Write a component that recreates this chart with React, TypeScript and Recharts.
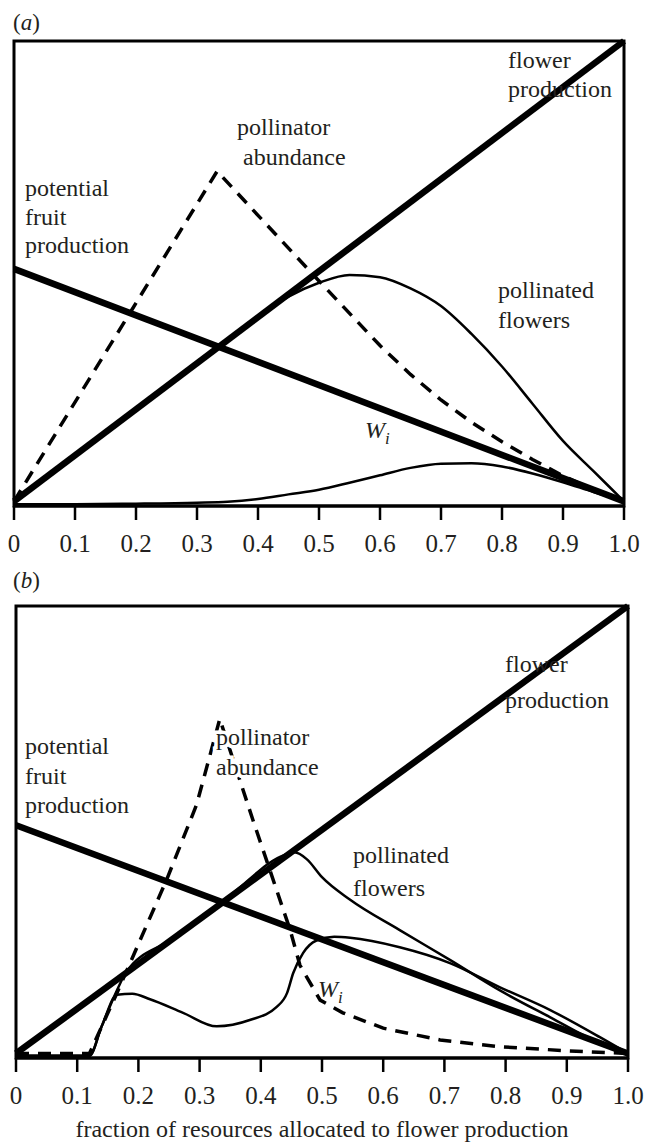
import React from 'react';
import { LineChart, Line, XAxis, YAxis, ReferenceArea } from 'recharts';

// x ticks shared by both panels
const xTicks = [0, 0.1, 0.2, 0.3, 0.4, 0.5, 0.6, 0.7, 0.8, 0.9, 1.0];

// panel (a)
const aFlowerX = [0, 1];
const aFlowerY = [0.01, 1.0];
const aFruitX = [0, 1];
const aFruitY = [0.51, 0.01];
const aPollinatorX = [0, 0.333, 0.4, 0.5, 0.6, 0.65, 0.7, 0.75, 0.8, 0.85, 0.9, 0.95, 1.0];
const aPollinatorY = [0.01, 0.72, 0.625, 0.484, 0.345, 0.283, 0.228, 0.18, 0.138, 0.1, 0.065, 0.035, 0.01];
const aPollinatedX = [0, 0.1, 0.2, 0.3, 0.4, 0.45, 0.5, 0.55, 0.6, 0.65, 0.7, 0.75, 0.8, 0.85, 0.9, 0.95, 1.0];
const aPollinatedY = [0.01, 0.11, 0.21, 0.31, 0.405, 0.45, 0.48, 0.497, 0.492, 0.468, 0.43, 0.37, 0.3, 0.22, 0.14, 0.075, 0.01];
const aWX = [0, 0.1, 0.2, 0.3, 0.35, 0.4, 0.45, 0.5, 0.55, 0.6, 0.65, 0.7, 0.75, 0.8, 0.85, 0.9, 0.95, 1.0];
const aWY = [0.004, 0.004, 0.005, 0.007, 0.009, 0.015, 0.025, 0.035, 0.05, 0.066, 0.082, 0.091, 0.092, 0.085, 0.07, 0.051, 0.03, 0.01];

// panel (b)
const bFlowerX = [0, 1];
const bFlowerY = [0.01, 1.0];
const bFruitX = [0, 1];
const bFruitY = [0.515, 0.01];
const bPollinatorX = [0, 0.12, 0.165, 0.246, 0.295, 0.333, 0.387, 0.448, 0.464, 0.497, 0.534, 0.6, 0.693, 0.79, 0.9, 1.0];
const bPollinatorY = [0.01, 0.01, 0.144, 0.394, 0.56, 0.75, 0.527, 0.283, 0.205, 0.128, 0.1, 0.066, 0.04, 0.025, 0.016, 0.01];
const bPollinatedX = [0, 0.12, 0.14, 0.165, 0.18, 0.25, 0.35, 0.44, 0.455, 0.475, 0.5, 0.546, 0.627, 0.709, 0.79, 0.873, 0.954, 1.0];
const bPollinatedY = [0.005, 0.005, 0.07, 0.15, 0.19, 0.26, 0.36, 0.45, 0.455, 0.44, 0.4, 0.35, 0.283, 0.217, 0.15, 0.09, 0.033, 0.01];
const bWX = [0, 0.12, 0.14, 0.165, 0.19, 0.219, 0.273, 0.328, 0.382, 0.426, 0.443, 0.453, 0.469, 0.491, 0.52, 0.546, 0.627, 0.709, 0.79, 0.873, 0.954, 1.0];
const bWY = [0.005, 0.005, 0.07, 0.14, 0.142, 0.13, 0.1, 0.07, 0.084, 0.113, 0.144, 0.188, 0.232, 0.26, 0.268, 0.266, 0.245, 0.21, 0.157, 0.106, 0.046, 0.01];

const toRows = (xs: number[], ys: number[]) => xs.map((x, i) => ({ x, y: ys[i] }));

const FONT = "'Liberation Serif', 'Times New Roman', 'DejaVu Serif', serif";
const INK = '#231f20';

const fmtTick = (v: number) => (v === 0 ? '0' : v.toFixed(1));

interface PanelProps {
  width: number;
  height: number;
  margin: { top: number; right: number; bottom: number; left: number };
  flower: { x: number; y: number }[];
  fruit: { x: number; y: number }[];
  pollinator: { x: number; y: number }[];
  pollinated: { x: number; y: number }[];
  w: { x: number; y: number }[];
}

const Panel: React.FC<PanelProps> = ({ width, height, margin, flower, fruit, pollinator, pollinated, w }) => (
  <LineChart width={width} height={height} margin={margin} style={{ fontFamily: FONT }}>
    <XAxis
      dataKey="x"
      type="number"
      domain={[0, 1]}
      ticks={xTicks}
      tickFormatter={fmtTick}
      allowDuplicatedCategory={false}
      height={40}
      tickSize={14}
      tickMargin={14}
      axisLine={{ stroke: '#000', strokeWidth: 3 }}
      tickLine={{ stroke: '#000', strokeWidth: 2.5 }}
      tick={{ fill: INK, fontSize: 25, style: { fontFamily: FONT } }}
      interval={0}
    />
    <YAxis type="number" domain={[0, 1]} hide />
    <ReferenceArea x1={0} x2={1} y1={0} y2={1} fill="none" stroke="#000" strokeWidth={3} />
    <Line data={w} dataKey="y" type="monotone" stroke="#000" strokeWidth={2.5} dot={false} activeDot={false} isAnimationActive={false} />
    <Line data={pollinated} dataKey="y" type="monotone" stroke="#000" strokeWidth={2.5} dot={false} activeDot={false} isAnimationActive={false} />
    <Line data={pollinator} dataKey="y" type="linear" stroke="#000" strokeWidth={3.5} strokeDasharray="13 9" dot={false} activeDot={false} isAnimationActive={false} />
    <Line data={fruit} dataKey="y" type="linear" stroke="#000" strokeWidth={6.5} dot={false} activeDot={false} isAnimationActive={false} />
    <Line data={flower} dataKey="y" type="linear" stroke="#000" strokeWidth={6.5} dot={false} activeDot={false} isAnimationActive={false} />
  </LineChart>
);

// knock: white halo behind the glyphs, hiding the curves that run under a label
const T: React.FC<{ x: number; y: number; knock?: boolean; children: React.ReactNode }> = ({ x, y, knock, children }) => (
  <text
    x={x}
    y={y}
    fill={INK}
    fontSize={24}
    stroke={knock ? '#fff' : undefined}
    strokeWidth={knock ? 7 : undefined}
    paintOrder="stroke"
    style={{ fontFamily: FONT }}
  >
    {children}
  </text>
);

const Wi: React.FC<{ x: number; y: number }> = ({ x, y }) => (
  <text x={x} y={y} fill={INK} fontSize={24} fontStyle="italic" style={{ fontFamily: FONT }}>
    W<tspan fontSize={17} dy={6}>i</tspan>
  </text>
);

const PanelTag: React.FC<{ x: number; y: number; letter: string }> = ({ x, y, letter }) => (
  <text x={x} y={y} fill={INK} fontSize={23} style={{ fontFamily: FONT }}>
    (<tspan fontStyle="italic">{letter}</tspan>)
  </text>
);

export default function App() {
  return (
    <div style={{ position: 'absolute', left: 0, top: 0, width: 648, height: 1145, background: '#fff', overflow: 'hidden', fontFamily: FONT }}>
      <div style={{ position: 'absolute', left: 0, top: 0 }}>
        <Panel
          width={648}
          height={560}
          margin={{ top: 41, right: 24, bottom: 14, left: 14 }}
          flower={toRows(aFlowerX, aFlowerY)}
          fruit={toRows(aFruitX, aFruitY)}
          pollinator={toRows(aPollinatorX, aPollinatorY)}
          pollinated={toRows(aPollinatedX, aPollinatedY)}
          w={toRows(aWX, aWY)}
        />
      </div>
      <div style={{ position: 'absolute', left: 0, top: 566 }}>
        <Panel
          width={648}
          height={560}
          margin={{ top: 40, right: 20, bottom: 28, left: 16 }}
          flower={toRows(bFlowerX, bFlowerY)}
          fruit={toRows(bFruitX, bFruitY)}
          pollinator={toRows(bPollinatorX, bPollinatorY)}
          pollinated={toRows(bPollinatedX, bPollinatedY)}
          w={toRows(bWX, bWY)}
        />
      </div>
      <svg width={648} height={1145} style={{ position: 'absolute', left: 0, top: 0, pointerEvents: 'none' }}>
        <PanelTag x={13} y={30} letter="a" />
        <T x={508} y={68}>flower</T>
        <T x={508} y={97}>production</T>
        <T x={237} y={135}>pollinator</T>
        <T x={243} y={165}>abundance</T>
        <T x={25} y={196}>potential</T>
        <T x={25} y={225}>fruit</T>
        <T x={25} y={253}>production</T>
        <T x={498} y={298}>pollinated</T>
        <T x={498} y={328}>flowers</T>
        <Wi x={365} y={438} />

        <PanelTag x={13} y={588} letter="b" />
        <T x={505} y={672}>flower</T>
        <T x={505} y={708}>production</T>
        <T x={216} y={745} knock>pollinator</T>
        <T x={216} y={775} knock>abundance</T>
        <T x={25} y={754}>potential</T>
        <T x={25} y={784}>fruit</T>
        <T x={25} y={813}>production</T>
        <T x={353} y={863}>pollinated</T>
        <T x={353} y={896}>flowers</T>
        <Wi x={318} y={997} />

        <text x={322} y={1137} fill={INK} fontSize={24} textAnchor="middle" style={{ fontFamily: FONT }}>
          fraction of resources allocated to flower production
        </text>
      </svg>
    </div>
  );
}
